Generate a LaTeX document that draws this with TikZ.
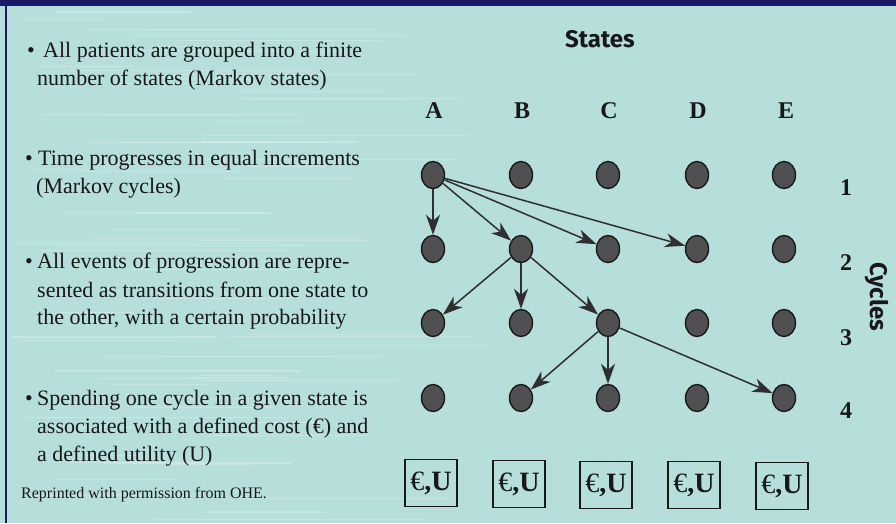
\documentclass[tikz,border=0pt]{standalone}
\usepackage{fontspec}
\setmainfont{Liberation Serif}
\newfontfamily\hsans{Fira Sans}
\usetikzlibrary{shapes.geometric,arrows.meta}
\definecolor{bgcyan}{RGB}{182,222,219}
\definecolor{streak}{RGB}{214,238,236}
\definecolor{navy}{RGB}{28,26,104}
\definecolor{dotgray}{RGB}{80,80,82}
\definecolor{ink}{RGB}{24,24,26}
\begin{document}
\begin{tikzpicture}[x=1pt,y=-1pt,
  txt/.style={anchor=base west,inner sep=0pt,text=ink,font=\fontsize{22}{26}\selectfont},
  bul/.style={anchor=base west,inner sep=0pt,text=ink,font=\fontsize{22}{26}\selectfont},
  dot/.style={ellipse,minimum width=23pt,minimum height=27pt,inner sep=0pt,fill=dotgray,draw=black!90,line width=1.4pt},
  collab/.style={anchor=base,inner sep=0pt,text=ink,font=\bfseries\fontsize{24}{28}\selectfont},
  cyclab/.style={anchor=base,inner sep=0pt,text=ink,font=\bfseries\fontsize{24}{28}\selectfont},
  eubox/.style={draw=ink,line width=1.4pt,minimum width=52pt,minimum height=47pt,inner sep=0pt,text=ink,font=\fontsize{28}{30}\selectfont},
  trans/.style={draw=ink!90,line width=1.5pt,-{Stealth[length=20pt,width=14pt,inset=6pt]}}
]
\useasboundingbox (0,0) rectangle (896,523);
\fill[bgcyan] (0,0) rectangle (896,523);
% faint horizontal streaks of the background texture
\pgfmathsetseed{7}
\foreach \i in {1,...,70}{
  \pgfmathsetmacro{\yy}{10+rnd*510}
  \pgfmathsetmacro{\xa}{8+rnd*250}
  \pgfmathsetmacro{\ll}{60+rnd*220}
  \draw[streak,opacity=0.5,line width=1.2pt] (\xa,\yy) -- ++(\ll,0);
}
\fill[navy] (0,0) rectangle (896,6);
\fill[navy] (5,6) rectangle (6.5,523);

% left text
\node[bul] (b1) at (27,57) {•};
\node[txt] (t1a) at (43,57) {All patients are grouped into a finite};
\node[txt] (t1b) at (37,85) {number of states (Markov states)};
\node[bul] (b2) at (25,165) {•};
\node[txt] (t2a) at (38,165) {Time progresses in equal increments};
\node[txt] (t2b) at (36,193) {(Markov cycles)};
\node[bul] (b3) at (25,268) {•};
\node[txt] (t3a) at (37,268) {All events of progression are repre-};
\node[txt] (t3b) at (37,297) {sented as transitions from one state to};
\node[txt] (t3c) at (37,324) {the other, with a certain probability};
\node[bul] (b4) at (25,405) {•};
\node[txt] (t4a) at (37,405) {Spending one cycle in a given state is};
\node[txt] (t4b) at (37,433) {associated with a defined cost (€) and};
\node[txt] (t4c) at (37,461) {a defined utility (U)};
\node[anchor=base west,inner sep=0pt,text=ink,font=\fontsize{16}{19}\selectfont] (rep) at (21,498) {Reprinted with permission from OHE.};

% headings
\node[anchor=base,inner sep=0pt,text=ink,font=\hsans\bfseries\fontsize{24}{28}\selectfont] (states) at (600,47) {States};
\node[collab] (lA) at (434,118) {A};
\node[collab] (lB) at (522,118) {B};
\node[collab] (lC) at (609,118) {C};
\node[collab] (lD) at (698,118) {D};
\node[collab] (lE) at (786,118) {E};

\node[cyclab] (n1) at (846,195) {1};
\node[cyclab] (n2) at (846,270) {2};
\node[cyclab] (n3) at (846,345) {3};
\node[cyclab] (n4) at (846,418) {4};
\node[rotate=-90,inner sep=0pt,text=ink,font=\hsans\bfseries\fontsize{24}{28}\selectfont] (cyc) at (877,297) {Cycles};

% dots
\foreach \c/\x in {A/433,B/521,C/608,D/697,E/784}{
  \foreach \r/\y in {1/175,2/249,3/323,4/398}{
    \node[dot] (\c\r) at (\x,\y) {};
  }
}

% transitions
\draw[trans] (A1) -- (A2);
\draw[trans] (A1) -- (B2);
\draw[trans] (A1) -- (C2);
\draw[trans] (A1) -- (D2);
\draw[trans] (B2) -- (A3);
\draw[trans] (B2) -- (B3);
\draw[trans] (B2) -- (C3);
\draw[trans] (C3) -- (B4);
\draw[trans] (C3) -- (C4);
\draw[trans] (C3) -- (E4);

% cost/utility boxes
\node[eubox] (uA) at (431,483) {€\textbf{,U}};
\node[eubox] (uB) at (519,484) {€\textbf{,U}};
\node[eubox] (uC) at (606,485) {€\textbf{,U}};
\node[eubox] (uD) at (694,485) {€\textbf{,U}};
\node[eubox] (uE) at (782,486) {€\textbf{,U}};
\end{tikzpicture}
\end{document}
